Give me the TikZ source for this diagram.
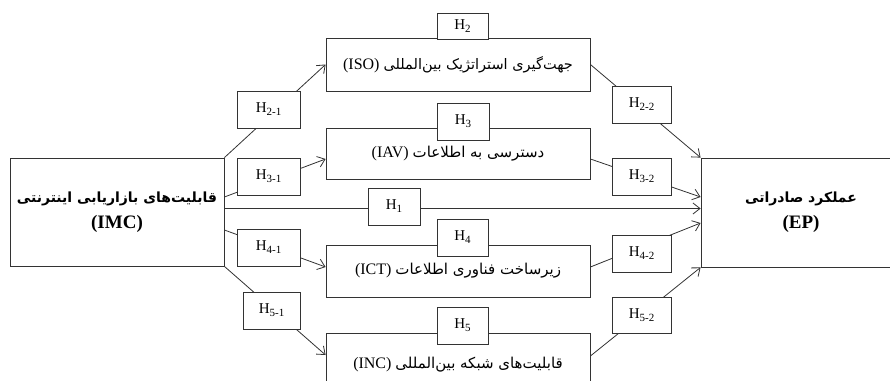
\documentclass[tikz,border=0pt]{standalone}
\usepackage{fontspec}
\setmainfont{Liberation Serif}
\newfontfamily\arabicfont[Script=Arabic]{DejaVu Sans}
\TeXXeTstate=1
\usetikzlibrary{arrows.meta}
\newcommand\fa[1]{{\arabicfont\beginR #1\endR}}
\newcommand\hsub[1]{\raisebox{-0.45ex}{\fontsize{11}{11}\selectfont #1}}
\begin{document}
\begin{tikzpicture}[x=1pt,y=-1pt,
  ln/.style={draw=black!80, line width=0.8pt},
  arr/.style={ln, -{Straight Barb[length=7pt,width=11pt,line width=0.8pt]}},
  mainbox/.style={draw=black!80, line width=0.8pt, fill=white, inner sep=0pt, align=center},
  hbox/.style={draw=black!80, line width=0.8pt, fill=white, inner sep=0pt, font=\fontsize{15}{15}\selectfont},
  midtext/.style={font=\fontsize{16}{18}\selectfont},
  bigtext/.style={font=\bfseries\fontsize{19}{26}\selectfont}
]
\useasboundingbox (0,0) rectangle (890,380);
\clip (0,0) rectangle (890,380);

% main boxes
\node[mainbox, bigtext, minimum width=214pt, minimum height=108pt] (imc) at (117,212)
  {{\fontsize{14}{26}\selectfont\fa{قابلیت‌های بازاریابی اینترنتی}}\\(IMC)};
\node[mainbox, bigtext, minimum width=200pt, minimum height=109pt] (ep) at (801,212.5)
  {{\fontsize{14}{26}\selectfont\fa{عملکرد صادراتی}}\\(EP)};
\node[mainbox, midtext, minimum width=264pt, minimum height=53pt] (iso) at (458,64.5)
  {(ISO) {\fontsize{14.5}{16}\selectfont\fa{جهت‌گیری استراتژیک بین‌المللی}}};
\node[mainbox, midtext, minimum width=264pt, minimum height=51pt] (iav) at (458,153.5)
  {(IAV) {\fontsize{15}{16}\selectfont\fa{دسترسی به اطلاعات}}};
\node[mainbox, midtext, minimum width=264pt, minimum height=52pt] (ict) at (458,271)
  {(ICT) {\fontsize{15}{16}\selectfont\fa{زیرساخت فناوری اطلاعات}}};
\node[mainbox, midtext, minimum width=264pt, minimum height=64pt] (inc) at (458,365)
  {(INC) {\fontsize{15}{16}\selectfont\fa{قابلیت‌های شبکه بین‌المللی}}};

% connectors
\draw[arr] (imc.north east) -- (iso.west);
\draw[arr] ([yshift=15pt]imc.east) -- ([yshift=-5.5pt]iav.west);
\draw[arr] ([yshift=3.5pt]imc.east) -- ([yshift=3.5pt]imc.east -| ep.west);
\draw[arr] ([yshift=-18pt]imc.east) -- ([yshift=4pt]ict.west);
\draw[arr] (imc.south east) -- ([yshift=10pt]inc.west);
\draw[arr] (iso.east) -- (ep.north west);
\draw[arr] ([yshift=-5.5pt]iav.east) -- ([yshift=15.5pt]ep.west);
\draw[arr] ([yshift=4pt]ict.east) -- ([yshift=-10.5pt]ep.west);
\draw[arr] ([yshift=9pt]inc.east) -- (ep.south west);

% hypothesis labels
\node[hbox, minimum width=63pt, minimum height=37pt] (h21) at (268.5,109.5) {H\hsub{2-1}};
\node[hbox, minimum width=63pt, minimum height=37pt] (h31) at (268.5,176.5) {H\hsub{3-1}};
\node[hbox, minimum width=63pt, minimum height=37pt] (h41) at (268.5,247.5) {H\hsub{4-1}};
\node[hbox, minimum width=57pt, minimum height=37pt] (h51) at (271.5,310.5) {H\hsub{5-1}};
\node[hbox, minimum width=59pt, minimum height=37pt] (h22) at (641.5,104.5) {H\hsub{2-2}};
\node[hbox, minimum width=59pt, minimum height=37pt] (h32) at (641.5,176.5) {H\hsub{3-2}};
\node[hbox, minimum width=59pt, minimum height=37pt] (h42) at (641.5,253.5) {H\hsub{4-2}};
\node[hbox, minimum width=59pt, minimum height=36pt] (h52) at (641.5,315) {H\hsub{5-2}};
\node[hbox, minimum width=52pt, minimum height=37pt] (h1) at (394,206.5) {H\hsub{1}};
\node[hbox, minimum width=51pt, minimum height=26pt] (h2) at (462.5,26) {H\hsub{2}};
\node[hbox, minimum width=52pt, minimum height=37pt] (h3) at (463,121.5) {H\hsub{3}};
\node[hbox, minimum width=51pt, minimum height=37pt] (h4) at (462.5,237.5) {H\hsub{4}};
\node[hbox, minimum width=51pt, minimum height=37pt] (h5) at (462.5,325.5) {H\hsub{5}};
\end{tikzpicture}
\end{document}
